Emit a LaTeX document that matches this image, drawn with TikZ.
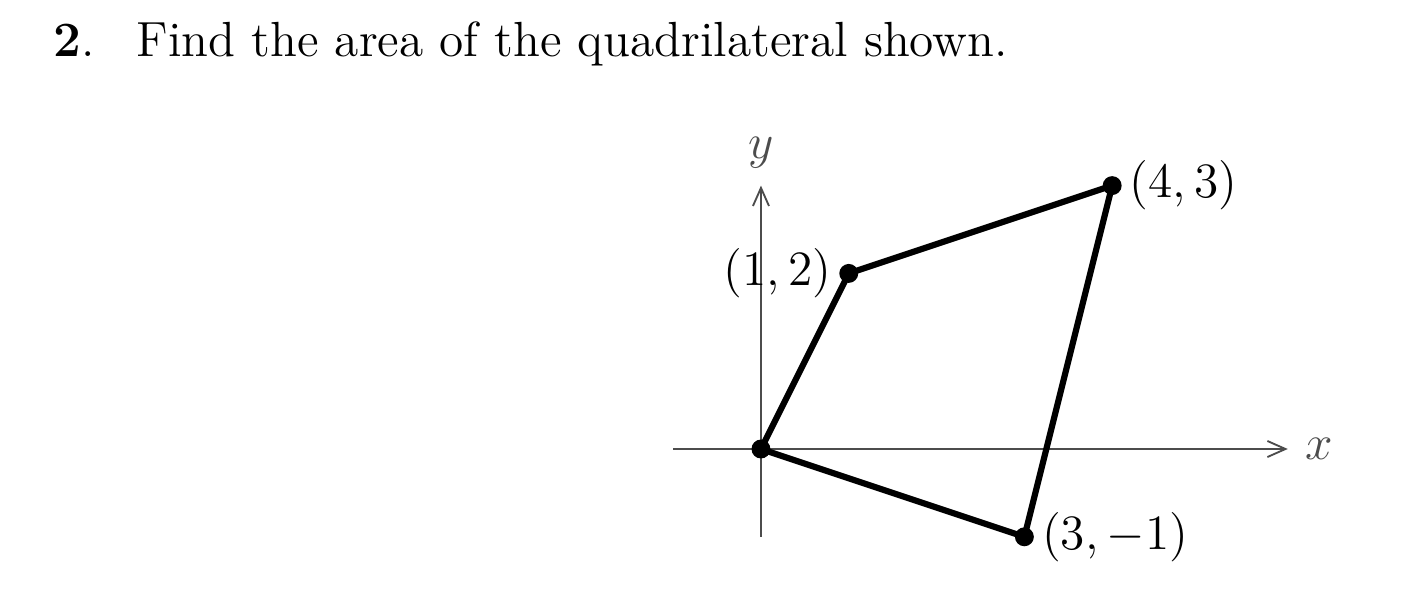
\documentclass[tikz,border=0pt,12pt]{standalone}
\usepackage{tikz}
\usepackage{amsmath}
\usetikzlibrary{arrows.meta}

\begin{document}
\begin{tikzpicture}[x=0.75cm,y=0.75cm]
%\draw[help lines] (-1,-1) grid (6,3);
\tikzset{
vertex/.style = {circle, fill=black, inner sep=0pt, minimum size=4.6pt},
side/.style   = {line width=1.5pt, color=black},
axis/.style   = {-{Straight Barb[length=4.4pt,width=3.9pt]}, black!70, line width=0.45pt}
}
\useasboundingbox (-8.667,-1.754) rectangle (7.335,5.114);

\node[anchor=base west, inner sep=0pt] (num) at (-8.064,4.476) {\textbf{2}.};
\node[anchor=base west, inner sep=0pt] (task) at (-7.118,4.476) {Find the area of the quadrilateral shown.};

\coordinate (xmin) at (-1,0);
\coordinate (xmax) at (6,0);
\coordinate (ymin) at (0,-1);
\coordinate (ymax) at (0,3);
\draw[axis] (xmin) -- (xmax) node[right] (xlab) {$x$};
\draw[axis] (ymin) -- (ymax) node[above] (ylab) {$y$};

\node[vertex] (O) at (0,0) {};
\node[vertex, label={[label distance=-2.4pt]left:{$(1,2)$}}] (A) at (1,2) {};
\node[vertex, label={[label distance=-2.4pt]right:{$(4,3)$}}] (B) at (4,3) {};
\node[vertex, label={[label distance=-2.4pt]right:{$(3,-1)$}}] (C) at (3,-1) {};

\draw[side] (O.center) -- (A.center) -- (B.center) -- (C.center) -- cycle;
\end{tikzpicture}
\end{document}
